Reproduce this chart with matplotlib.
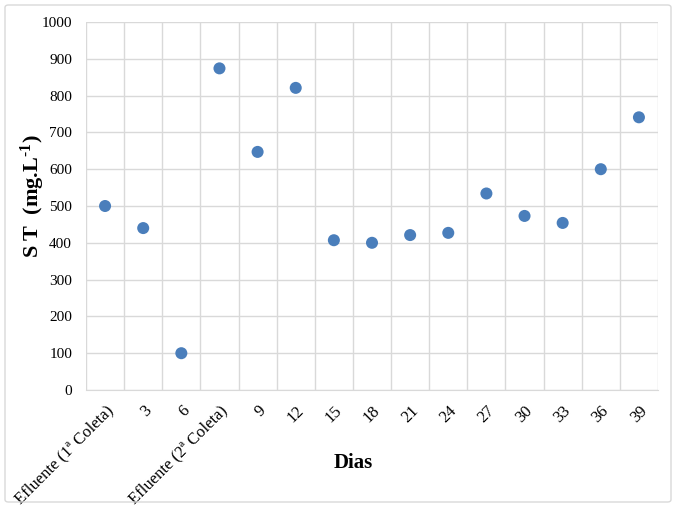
import matplotlib
matplotlib.use("Agg")
import matplotlib.pyplot as plt
from matplotlib.patches import FancyBboxPatch

categories = ["Efluente (1ª Coleta)", "3", "6", "Efluente (2ª Coleta)", "9", "12", "15",
              "18", "21", "24", "27", "30", "33", "36", "39"]
st_values = [500, 440, 100, 874, 647, 821, 407, 400, 421, 427, 534, 473, 454, 600, 741]
y_ticks = [0, 100, 200, 300, 400, 500, 600, 700, 800, 900, 1000]

plt.rcParams['font.family'] = ['Liberation Serif', 'DejaVu Serif']
plt.rcParams['mathtext.fontset'] = 'custom'
plt.rcParams['mathtext.rm'] = 'Liberation Serif:bold'
plt.rcParams['mathtext.bf'] = 'Liberation Serif:bold'
plt.rcParams['mathtext.default'] = 'bf'

fig = plt.figure(figsize=(6.76, 5.07), dpi=100)
ax = fig.add_axes([86/676, 1-390/507, (658-86)/676, (390-22)/507])

x = list(range(len(categories)))
ax.scatter(x, st_values, s=75, color='#4a7ebb', zorder=3, edgecolors='none')

ax.set_xlim(-0.5, len(categories)-0.5)
ax.set_ylim(0, 1000)
ax.set_yticks(y_ticks)
ax.set_yticklabels([str(v) for v in y_ticks], fontsize=11)
ax.set_xticks(x)
ax.set_xticklabels(categories, rotation=45, ha='right', rotation_mode='anchor', fontsize=12)
ax.set_xticks([i + 0.5 for i in range(-1, len(categories))], minor=True)
ax.grid(True, which='minor', axis='x', color='#d9d9d9', linewidth=1)
ax.grid(True, which='major', axis='y', color='#d9d9d9', linewidth=1)
ax.set_axisbelow(True)
ax.tick_params(axis='both', which='both', length=0)
ax.tick_params(axis='x', pad=9)
ax.tick_params(axis='y', pad=10)
for side in ['top', 'right', 'left']:
    ax.spines[side].set_visible(False)
ax.spines['bottom'].set_color('#d9d9d9')

fig.text(33/676, 1-196/507, r'S T  (mg.L$^{\text{-}1}$)', fontsize=16, fontweight='bold',
         rotation=90, ha='center', va='center')
fig.text(353/676, 1-463/507, 'Dias', fontsize=15, fontweight='bold', ha='center', va='center')

border = FancyBboxPatch((5/676, 5/507), 666/676, 497/507, boxstyle="round,pad=0,rounding_size=0.005",
                        transform=fig.transFigure, facecolor='none', edgecolor='#d9d9d9', linewidth=1)
fig.patches.append(border)

fig.savefig('out.png', dpi=100)
